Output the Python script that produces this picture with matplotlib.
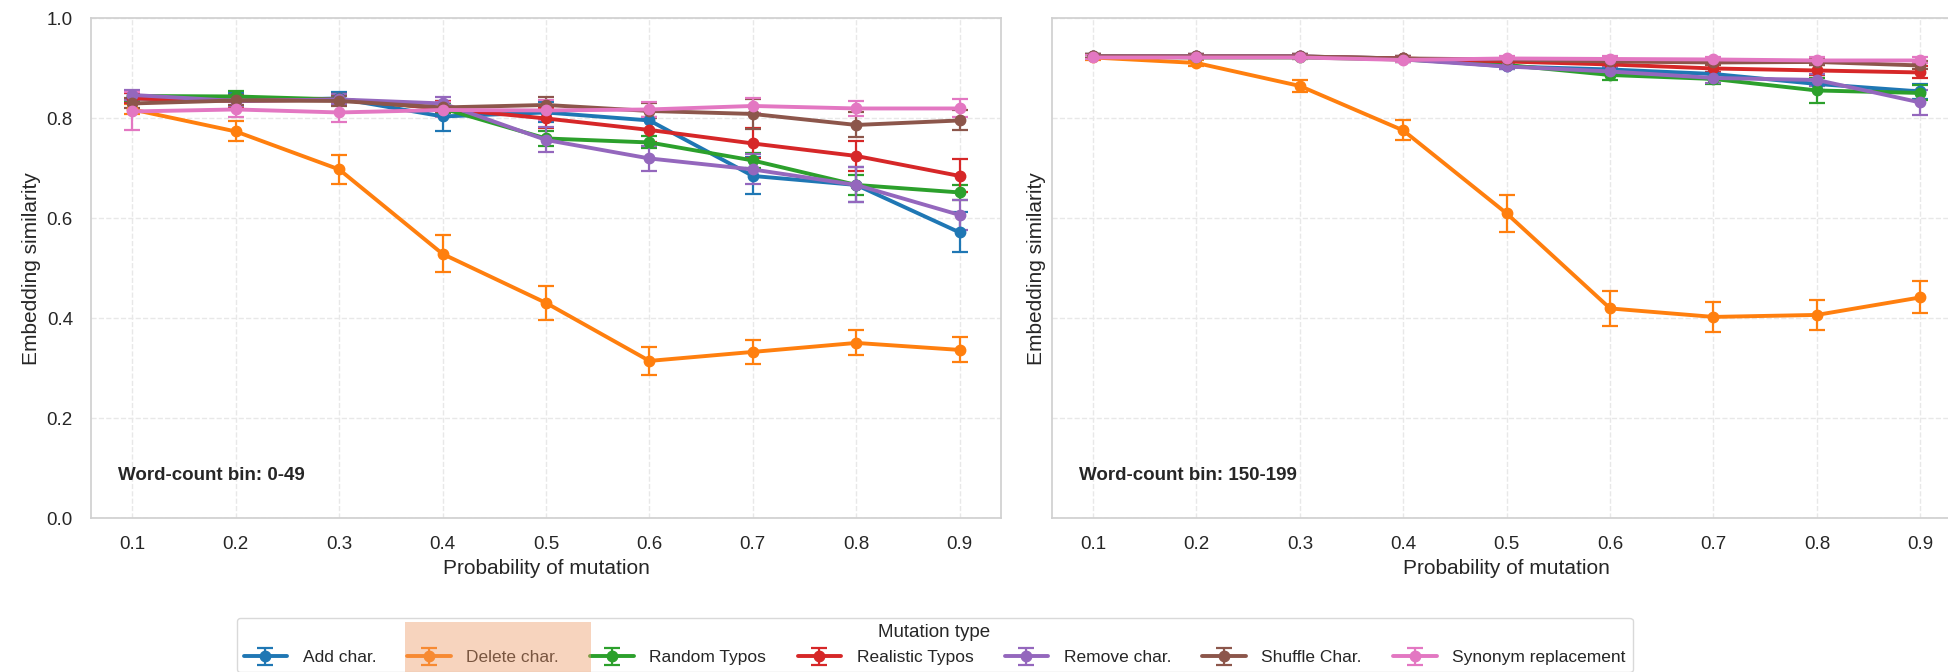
import numpy as np
import matplotlib
matplotlib.use("Agg")
import matplotlib.pyplot as plt
import seaborn as sns
from matplotlib.patches import Rectangle

probs = [0.1, 0.2, 0.3, 0.4, 0.5, 0.6, 0.7, 0.8, 0.9]
mutation_types = ["Add char.", "Delete char.", "Random Typos", "Realistic Typos",
                  "Remove char.", "Shuffle Char.", "Synonym replacement"]
bin_labels = ["Word-count bin: 0-49", "Word-count bin: 150-199"]

# word-count bin 0-49
means_small = [
    [0.840, 0.836, 0.840, 0.804, 0.812, 0.796, 0.685, 0.667, 0.572],
    [0.818, 0.774, 0.698, 0.529, 0.431, 0.315, 0.333, 0.351, 0.337],
    [0.845, 0.844, 0.838, 0.820, 0.760, 0.752, 0.716, 0.667, 0.652],
    [0.840, 0.835, 0.838, 0.820, 0.800, 0.777, 0.750, 0.725, 0.685],
    [0.847, 0.835, 0.838, 0.830, 0.757, 0.720, 0.698, 0.667, 0.607],
    [0.830, 0.836, 0.835, 0.822, 0.827, 0.815, 0.809, 0.787, 0.796],
    [0.814, 0.818, 0.812, 0.817, 0.816, 0.818, 0.825, 0.820, 0.820],
]
errs_small = [
    [0.010, 0.015, 0.012, 0.030, 0.020, 0.020, 0.037, 0.035, 0.040],
    [0.010, 0.020, 0.029, 0.037, 0.034, 0.028, 0.024, 0.025, 0.025],
    [0.010, 0.010, 0.010, 0.010, 0.015, 0.012, 0.015, 0.020, 0.015],
    [0.010, 0.012, 0.010, 0.015, 0.020, 0.025, 0.030, 0.030, 0.033],
    [0.010, 0.010, 0.010, 0.012, 0.025, 0.025, 0.030, 0.035, 0.030],
    [0.010, 0.010, 0.010, 0.010, 0.015, 0.015, 0.030, 0.025, 0.020],
    [0.038, 0.015, 0.020, 0.015, 0.020, 0.015, 0.015, 0.015, 0.018],
]

# word-count bin 150-199
means_large = [
    [0.924, 0.924, 0.924, 0.920, 0.904, 0.898, 0.889, 0.869, 0.854],
    [0.922, 0.911, 0.865, 0.776, 0.610, 0.420, 0.403, 0.407, 0.442],
    [0.924, 0.922, 0.922, 0.918, 0.907, 0.887, 0.879, 0.856, 0.851],
    [0.924, 0.924, 0.924, 0.920, 0.914, 0.908, 0.900, 0.896, 0.892],
    [0.924, 0.924, 0.924, 0.918, 0.904, 0.894, 0.881, 0.877, 0.832],
    [0.924, 0.924, 0.924, 0.920, 0.918, 0.914, 0.912, 0.913, 0.906],
    [0.922, 0.922, 0.922, 0.917, 0.920, 0.919, 0.918, 0.916, 0.916],
]
errs_large = [
    [0.004, 0.004, 0.004, 0.005, 0.006, 0.008, 0.010, 0.012, 0.015],
    [0.005, 0.006, 0.012, 0.020, 0.037, 0.035, 0.030, 0.030, 0.032],
    [0.004, 0.004, 0.004, 0.005, 0.006, 0.010, 0.010, 0.025, 0.015],
    [0.004, 0.004, 0.004, 0.005, 0.006, 0.006, 0.008, 0.010, 0.012],
    [0.004, 0.004, 0.004, 0.005, 0.006, 0.008, 0.010, 0.012, 0.025],
    [0.004, 0.004, 0.004, 0.005, 0.005, 0.006, 0.006, 0.006, 0.008],
    [0.004, 0.004, 0.004, 0.005, 0.005, 0.005, 0.005, 0.006, 0.006],
]

colors = sns.color_palette("tab10", 7)


def main():
    sns.set_theme(style="whitegrid")
    plt.rcParams['font.family'] = ['Liberation Sans', 'DejaVu Sans']

    fig = plt.figure(figsize=(19.49, 6.72), dpi=100)
    ax1 = fig.add_axes([0.0467, 0.2286, 0.4669, 0.7439])
    ax2 = fig.add_axes([0.5396, 0.2286, 0.4669, 0.7439], sharey=ax1)

    for ax, means, errs, label in [(ax1, means_small, errs_small, bin_labels[0]),
                                   (ax2, means_large, errs_large, bin_labels[1])]:
        for i, name in enumerate(mutation_types):
            ax.errorbar(probs, means[i], yerr=errs[i], color=colors[i], label=name,
                        marker='o', markersize=7.5, linewidth=2.8, elinewidth=1.6,
                        capsize=6, capthick=1.6)
        ax.set_ylim(0, 1.0)
        ax.set_xticks(probs)
        ax.set_xticklabels([f"{p:.1f}" for p in probs])
        ax.set_xlabel("Probability of mutation", fontsize=15)
        ax.set_ylabel("Embedding similarity", fontsize=15)
        ax.tick_params(labelsize=13.5, pad=7)
        ax.grid(True, linestyle='--', color='#e8e8e8')
        ax.text(0.03, 0.085, label, transform=ax.transAxes, fontsize=13.5,
                fontweight='bold', va='center', ha='left')
        for s in ax.spines.values():
            s.set_color('#d0d0d0')

    plt.setp(ax2.get_yticklabels(), visible=False)
    ax2.yaxis.labelpad = 4

    handles, labels = ax1.get_legend_handles_labels()
    leg_fs = 12.5
    leg = fig.legend(handles, labels, loc='upper center', bbox_to_anchor=(0.4795, 0.094),
                     ncol=7, title="Mutation type", fontsize=leg_fs, title_fontsize=13.5,
                     frameon=True, edgecolor='#d0d0d0', handlelength=2.5,
                     handletextpad=0.9, columnspacing=1.8)

    # highlight over the "Delete char." entry, placed from the drawn legend text
    fig.canvas.draw()
    bb = leg.get_texts()[1].get_window_extent()
    px = leg_fs * 100 / 72
    left = bb.x0 - (2.5 + 0.9) * px - 2
    right = bb.x1 + 32
    top = bb.y1 + 28
    fig.patches.append(Rectangle((left / 1949, 0), (right - left) / 1949, top / 672,
                                 transform=fig.transFigure, facecolor='#ee9a66',
                                 alpha=0.42, edgecolor='none', zorder=10))

    fig.savefig("out.png", dpi=100)


if __name__ == "__main__":
    main()
